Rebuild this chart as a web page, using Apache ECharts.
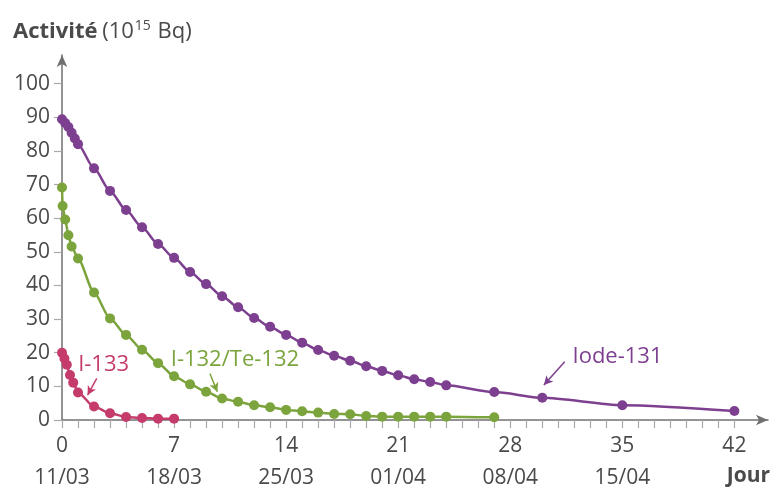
<!DOCTYPE html>
<html>
<head>
<meta charset="utf-8">
<script src="https://cdn.jsdelivr.net/npm/echarts@6/dist/echarts.min.js"></script>
<style>
html,body{margin:0;padding:0;background:#fff;}
#chart{width:777px;height:487px;}
</style>
</head>
<body>
<div id="chart"></div>
<script>
// ---- data ----
const iodeDays = [0,0.2,0.4,0.6,0.8,1,2,3,4,5,6,7,8,9,10,11,12,13,14,15,16,17,18,19,20,21,22,23,24,27,30,35,42];
const iodeVals = [89.4,88.3,87.1,85.4,83.7,82.0,74.8,68.1,62.4,57.3,52.3,48.2,44.0,40.4,36.8,33.5,30.3,27.7,25.3,23.0,20.8,19.1,17.6,16.0,14.6,13.3,12.1,11.3,10.3,8.3,6.6,4.4,2.7];

const i132Days = [0,0.04,0.2,0.4,0.6,1,2,3,4,5,6,7,8,9,10,11,12,13,14,15,16,17,18,19,20,21,22,23,24,27];
const i132Vals = [69.1,63.6,59.6,54.9,51.6,48.0,37.9,30.2,25.3,20.9,16.9,13.0,10.6,8.4,6.4,5.4,4.4,3.8,3.0,2.6,2.2,1.8,1.7,1.2,1.0,1.0,1.0,1.0,1.0,0.8];

const i133Days = [0,0.15,0.3,0.5,0.7,1,2,3,4,5,6,7];
const i133Vals = [20.0,18.3,16.4,13.4,11.1,8.2,4.0,2.0,0.9,0.6,0.4,0.4];

const xTickValues = [0,7,14,21,28,35,42];
const xDateLabels = ['11/03','18/03','25/03','01/04','08/04','15/04'];
const yTickValues = [0,10,20,30,40,50,60,70,80,90,100];
const dayTicks = Array.from({length: 43}, (_, i) => i);

const seriesNames = ['Iode-131', 'I-132/Te-132', 'I-133'];
const colors = ['#7d3f8f', '#7ba43c', '#c53c6c'];

// annotation anchors (data units)
const labelPos = [[34.7, 18.7], [10.8, 17.8], [2.6, 16.3]];
const arrowFrom = [[31.4, 17.3], [9.24, 13.8], [2.17, 12.4]];
const arrowTo = [[30.1, 10.4], [9.7, 8.4], [1.6, 7.4]];

const FONT = '"Open Sans", "Noto Sans", sans-serif';
const TEXT = '#4a4a4a';
const AXIS = '#707070';

function pairs(xs, ys) { return xs.map((x, i) => [x, ys[i]]); }

const datasets = [pairs(iodeDays, iodeVals), pairs(i132Days, i132Vals), pairs(i133Days, i133Vals)];

const chart = echarts.init(document.getElementById('chart'), null, {renderer: 'canvas'});

const series = datasets.map((d, k) => ({
  type: 'line',
  name: seriesNames[k],
  data: d,
  smooth: 0.25,
  smoothMonotone: 'x',
  symbol: 'circle',
  symbolSize: 10,
  showAllSymbol: true,
  z: 3 + (2 - k),
  lineStyle: {color: colors[k], width: 2.5},
  itemStyle: {color: colors[k]},
  animation: false,
  markPoint: {
    symbol: 'circle',
    symbolSize: 0,
    silent: true,
    animation: false,
    data: [{
      coord: labelPos[k],
      label: {
        show: true,
        formatter: seriesNames[k],
        color: colors[k],
        fontFamily: FONT,
        fontSize: 22,
        position: 'inside'
      }
    }]
  },
  markLine: {
    silent: true,
    animation: false,
    symbol: ['none', 'arrow'],
    symbolSize: [7, 9],
    label: {show: false},
    lineStyle: {color: colors[k], width: 1.5, type: 'solid'},
    data: [[{coord: arrowFrom[k]}, {coord: arrowTo[k]}]]
  }
}));

const option = {
  animation: false,
  backgroundColor: '#ffffff',
  textStyle: {fontFamily: FONT},
  title: {
    left: 8,
    top: 12,
    text: '{b|Activité} {n|(10}{s|15}{n| Bq)}',
    textStyle: {
      fontWeight: 'normal',
      rich: {
        b: {fontFamily: FONT, fontWeight: 'bold', fontSize: 22, color: TEXT, lineHeight: 30},
        n: {fontFamily: FONT, fontWeight: 'normal', fontSize: 22, color: TEXT, lineHeight: 30},
        s: {fontFamily: FONT, fontWeight: 'normal', fontSize: 14, color: TEXT, lineHeight: 30, padding: [0, 1, 12, 1]}
      }
    }
  },
  graphic: [{
    type: 'text',
    right: 7,
    top: 466,
    style: {text: 'Jour', font: 'bold 21px ' + FONT, fill: TEXT}
  }],
  grid: {left: 62, right: 9, top: 55, bottom: 67, containLabel: false, outerBoundsMode: 'none'},
  xAxis: {
    type: 'value',
    min: 0,
    max: 44.1,
    axisLine: {show: true, lineStyle: {color: AXIS, width: 1.5}, symbol: ['none', 'arrow'], symbolSize: [8, 12]},
    axisTick: {show: true, length: 8, lineStyle: {color: '#aaaaaa', width: 1.2}, customValues: dayTicks},
    axisLabel: {
      customValues: xTickValues,
      margin: 10,
      color: TEXT,
      fontFamily: FONT,
      fontSize: 21,
      lineHeight: 32,
      formatter: function (v) {
        const i = xTickValues.indexOf(Math.round(v));
        const d = xDateLabels[i];
        return d ? (v + '\n' + d) : String(v);
      }
    },
    splitLine: {show: false}
  },
  yAxis: {
    type: 'value',
    min: 0,
    max: 108.5,
    axisLine: {show: true, lineStyle: {color: AXIS, width: 1.5}, symbol: ['none', 'arrow'], symbolSize: [8, 12]},
    axisTick: {show: true, length: 8, lineStyle: {color: '#aaaaaa', width: 1.2}, customValues: yTickValues},
    axisLabel: {customValues: yTickValues, margin: 12, color: TEXT, fontFamily: FONT, fontSize: 21},
    splitLine: {show: false}
  },
  series: series
};

chart.setOption(option);
</script>
</body>
</html>
